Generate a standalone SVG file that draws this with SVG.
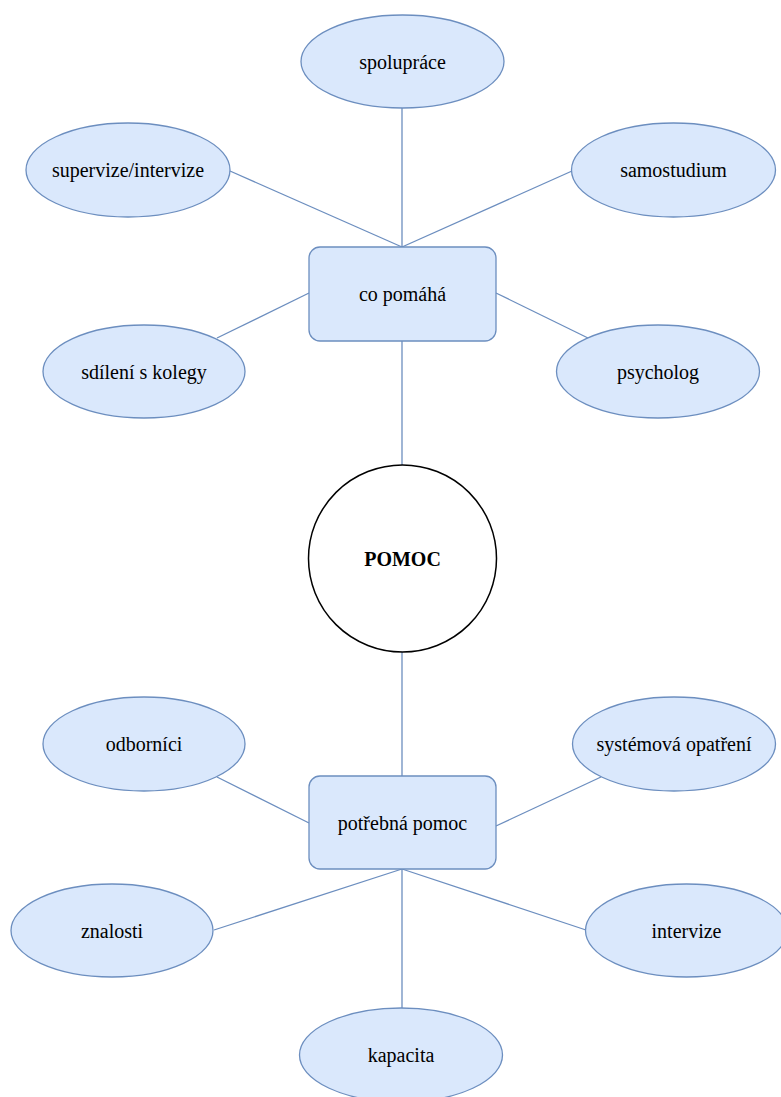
<svg xmlns="http://www.w3.org/2000/svg" width="781" height="1097" viewBox="0 0 781 1097">
<style>
.leaf{fill:#dae8fc;stroke:#6c8ebf;stroke-width:1.3}
.box{fill:#dae8fc;stroke:#6c8ebf;stroke-width:1.3}
.core{fill:#ffffff;stroke:#000000;stroke-width:1.5}
.edge{stroke:#6c8ebf;stroke-width:1.3;fill:none}
</style>
<rect width="781" height="1097" fill="#ffffff"/>
<g id="connectors">
<line class="edge" x1="402" y1="108" x2="402" y2="247"/>
<line class="edge" x1="230" y1="171" x2="402" y2="247"/>
<line class="edge" x1="572" y1="171" x2="402" y2="247"/>
<line class="edge" x1="309" y1="293" x2="217" y2="338"/>
<line class="edge" x1="496" y1="293" x2="588" y2="338"/>
<line class="edge" x1="402" y1="341" x2="402" y2="465"/>
<line class="edge" x1="402" y1="652" x2="402" y2="776"/>
<line class="edge" x1="217" y1="777" x2="309" y2="823"/>
<line class="edge" x1="601" y1="777" x2="496" y2="826"/>
<line class="edge" x1="402" y1="869" x2="214" y2="930"/>
<line class="edge" x1="402" y1="869" x2="586" y2="930"/>
<line class="edge" x1="402" y1="869" x2="402" y2="1008"/>
</g>
<g font-family="Liberation Serif, serif" font-size="20" fill="#000000" text-anchor="middle">
<g id="spoluprace"><ellipse class="leaf" cx="402.5" cy="61.5" rx="101.5" ry="46.5"/><text x="402.5" y="68.5">spolupráce</text></g>
<g id="supervize"><ellipse class="leaf" cx="128" cy="170" rx="102" ry="47"/><text x="128" y="177">supervize/intervize</text></g>
<g id="samostudium"><ellipse class="leaf" cx="673.5" cy="170" rx="102" ry="47"/><text x="673.5" y="177">samostudium</text></g>
<g id="co-pomaha"><rect class="box" x="309" y="247" width="187" height="94" rx="11"/><text x="402.5" y="301">co pomáhá</text></g>
<g id="sdileni"><ellipse class="leaf" cx="144" cy="371.5" rx="101" ry="46.5"/><text x="144" y="378.5">sdílení s kolegy</text></g>
<g id="psycholog"><ellipse class="leaf" cx="658" cy="371.5" rx="101.5" ry="46.5"/><text x="658" y="378.5">psycholog</text></g>
<g id="pomoc"><ellipse class="core" cx="402.5" cy="558.5" rx="94" ry="93.5"/><text x="402.5" y="565.5" font-weight="bold">POMOC</text></g>
<g id="potrebna-pomoc"><rect class="box" x="309" y="776" width="187" height="93" rx="11"/><text x="402.5" y="829.5">potřebná pomoc</text></g>
<g id="odbornici"><ellipse class="leaf" cx="144" cy="744" rx="101" ry="47"/><text x="144" y="751">odborníci</text></g>
<g id="systemova"><ellipse class="leaf" cx="674" cy="744" rx="101.5" ry="47"/><text x="674" y="751">systémová opatření</text></g>
<g id="znalosti"><ellipse class="leaf" cx="112" cy="930.5" rx="101" ry="46.5"/><text x="112" y="937.5">znalosti</text></g>
<g id="intervize"><ellipse class="leaf" cx="686.5" cy="930.5" rx="101" ry="46.5"/><text x="686.5" y="937.5">intervize</text></g>
<g id="kapacita"><ellipse class="leaf" cx="401" cy="1055" rx="101.5" ry="47"/><text x="401" y="1062">kapacita</text></g>
</g>
</svg>
